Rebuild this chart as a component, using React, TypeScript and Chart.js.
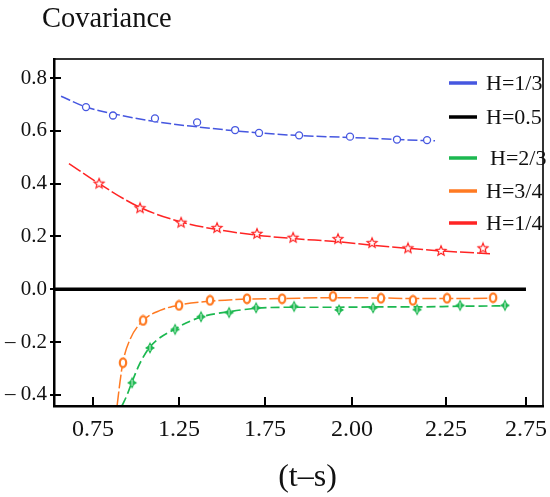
import { useEffect, useRef } from 'react';
import { Chart, registerables } from 'chart.js';

Chart.register(...registerables);

// x positions follow the printed axis, which is not evenly labelled
const xTickValues = [0.75, 1.25, 1.75, 2.256, 2.802, 3.267];
const xTickLabels = ['0.75', '1.25', '1.75', '2.00', '2.25', '2.75'];
const yTickValues = [-0.4, -0.2, 0, 0.2, 0.4, 0.6, 0.8];
const yTickLabels = ['\u2013 0.4', '\u2013 0.2', '0.0', '0.2', '0.4', '0.6', '0.8'];

const blueLineX = [0.564, 0.709, 0.866, 1.11, 1.355, 1.576, 1.715, 1.948, 2.244, 2.517, 2.738];
const blueLineY = [0.731, 0.69, 0.665, 0.635, 0.615, 0.6, 0.592, 0.582, 0.575, 0.567, 0.562];
const blueMarkX = [0.709, 0.866, 1.11, 1.355, 1.576, 1.715, 1.948, 2.244, 2.517, 2.692];
const blueMarkY = [0.69, 0.658, 0.647, 0.632, 0.603, 0.592, 0.583, 0.578, 0.567, 0.565];

const blackLineX = [0.523, 3.267];
const blackLineY = [0, 0];

const greenLineX = [0.919, 0.948, 0.977, 1.023, 1.081, 1.227, 1.378, 1.541, 1.698, 1.919, 2.18, 2.378, 2.634, 2.884, 3.145];
const greenLineY = [-0.44, -0.4, -0.35, -0.28, -0.218, -0.15, -0.105, -0.085, -0.072, -0.068, -0.068, -0.067, -0.067, -0.064, -0.063];
const greenMarkX = [0.977, 1.081, 1.227, 1.378, 1.541, 1.698, 1.919, 2.18, 2.378, 2.634, 2.884, 3.145];
const greenMarkY = [-0.354, -0.222, -0.152, -0.104, -0.088, -0.07, -0.065, -0.078, -0.07, -0.077, -0.061, -0.061];

const orangeLineX = [0.89, 0.907, 0.924, 0.965, 1.041, 1.14, 1.25, 1.43, 1.645, 1.849, 2.145, 2.424, 2.61, 2.808, 3.076];
const orangeLineY = [-0.44, -0.35, -0.275, -0.19, -0.118, -0.08, -0.06, -0.045, -0.037, -0.035, -0.032, -0.033, -0.035, -0.035, -0.034];
const orangeMarkX = [0.924, 1.041, 1.25, 1.43, 1.645, 1.849, 2.145, 2.424, 2.61, 2.808, 3.076];
const orangeMarkY = [-0.278, -0.118, -0.061, -0.042, -0.036, -0.036, -0.027, -0.034, -0.042, -0.034, -0.032];

const redLineX = [0.61, 0.785, 1.023, 1.262, 1.471, 1.703, 1.913, 2.174, 2.372, 2.581, 2.773, 3.058];
const redLineY = [0.476, 0.4, 0.31, 0.255, 0.226, 0.205, 0.192, 0.18, 0.167, 0.155, 0.145, 0.135];
const redMarkX = [0.785, 1.023, 1.262, 1.471, 1.703, 1.913, 2.174, 2.372, 2.581, 2.773, 3.017];
const redMarkY = [0.4, 0.307, 0.252, 0.232, 0.21, 0.195, 0.19, 0.175, 0.155, 0.145, 0.155];

const legendLabels = ['H=1/3', 'H=0.5', 'H=2/3', 'H=3/4', 'H=1/4'];

const BLUE = '#4657e0';
const BLACK = '#000000';
const GREEN = '#1cb850';
const ORANGE = '#ff7a22';
const RED = '#ff2424';
const legendColors = [BLUE, BLACK, GREEN, ORANGE, RED];

const SERIF = "'Liberation Serif', 'Times New Roman', serif";

const pts = (xs: number[], ys: number[]) => xs.map((x, i) => ({ x, y: ys[i] }));

function makeMarker(size: number, draw: (c: CanvasRenderingContext2D) => void) {
  const cv = document.createElement('canvas');
  cv.width = size;
  cv.height = size;
  const c = cv.getContext('2d')!;
  c.translate(size / 2, size / 2);
  draw(c);
  return cv;
}

const starMarker = () =>
  makeMarker(14, (c) => {
    c.beginPath();
    for (let i = 0; i < 10; i++) {
      const r = i % 2 === 0 ? 5.2 : 2.3;
      const a = -Math.PI / 2 + (i * Math.PI) / 5;
      const px = r * Math.cos(a);
      const py = r * Math.sin(a);
      if (i === 0) c.moveTo(px, py);
      else c.lineTo(px, py);
    }
    c.closePath();
    c.fillStyle = '#fff';
    c.fill();
    c.strokeStyle = RED;
    c.lineWidth = 1.2;
    c.stroke();
  });

const ovalMarker = () =>
  makeMarker(12, (c) => {
    c.beginPath();
    c.ellipse(0, 0, 3.2, 4.3, 0, 0, Math.PI * 2);
    c.fillStyle = '#fff';
    c.fill();
    c.strokeStyle = ORANGE;
    c.lineWidth = 2.2;
    c.stroke();
  });

const diamondMarker = () =>
  makeMarker(14, (c) => {
    c.beginPath();
    c.moveTo(0, -6);
    c.lineTo(2, -2);
    c.lineTo(5, 0);
    c.lineTo(2, 2);
    c.lineTo(0, 6);
    c.lineTo(-2, 2);
    c.lineTo(-5, 0);
    c.lineTo(-2, -2);
    c.closePath();
    c.fillStyle = GREEN;
    c.fill();
    c.strokeStyle = '#d8f5e0';
    c.lineWidth = 1;
    c.beginPath();
    c.moveTo(0, -3);
    c.lineTo(0, 3);
    c.stroke();
  });

const frame = {
  id: 'frame',
  afterDraw(chart: Chart) {
    const ctx = chart.ctx;
    const a = chart.chartArea;
    const xs = chart.scales.x;
    const ys = chart.scales.y;
    const L = Math.round(a.left);
    const R = Math.round(a.right);
    const T = Math.round(a.top);
    const B = Math.round(a.bottom);
    ctx.save();
    // top & right border
    ctx.fillStyle = '#333333';
    ctx.fillRect(L, T - 1, R - L + 1, 2);
    ctx.fillRect(R - 1, T - 1, 2, B - T + 2);
    // axes
    ctx.fillStyle = BLACK;
    ctx.fillRect(L - 1, T - 1, 2.5, B - T + 2);
    ctx.fillRect(L - 1, B - 1, R - L + 2, 2.5);
    // ticks: y ticks cross the axis, x ticks point inward
    yTickValues.forEach((v) => {
      const py = Math.round(ys.getPixelForValue(v));
      ctx.fillRect(L - 4, py - 1, 11, 2);
    });
    xTickValues.forEach((v) => {
      const px = Math.round(xs.getPixelForValue(v));
      ctx.fillRect(px - 1, B - 9, 2, 9);
    });

    // legend
    const rowY = [24, 58, 99, 132, 164];
    ctx.textBaseline = 'middle';
    ctx.textAlign = 'left';
    ctx.font = `22px ${SERIF}`;
    legendLabels.forEach((lab, i) => {
      const ly = a.top + rowY[i];
      ctx.fillStyle = legendColors[i];
      ctx.fillRect(a.right - 94, ly - 1.75, 28, 3.5);
      ctx.fillStyle = '#111';
      ctx.fillText(lab, a.right - 57 + (i === 2 ? 4 : 0), ly + 1);
    });

    // titles
    ctx.font = `28.5px ${SERIF}`;
    ctx.textBaseline = 'alphabetic';
    ctx.fillText('Covariance', 42, 27);
    ctx.font = `32px ${SERIF}`;
    ctx.textAlign = 'center';
    ctx.textBaseline = 'middle';
    ctx.fillText('(t\u2013s)', (a.left + a.right) / 2 + 9, a.bottom + 72);
    ctx.restore();
  },
};

export default function App() {
  const canvasRef = useRef<HTMLCanvasElement>(null);
  const chartRef = useRef<Chart | null>(null);

  useEffect(() => {
    if (!canvasRef.current) return;
    chartRef.current?.destroy();

    const line = (xs: number[], ys: number[], color: string, dash: number[], width = 1.5) => ({
      data: pts(xs, ys),
      borderColor: color,
      borderWidth: width,
      borderDash: dash,
      pointRadius: 0,
      showLine: true,
      tension: 0.4,
      cubicInterpolationMode: 'monotone' as const,
      order: 2,
    });
    const marks = (xs: number[], ys: number[], style: any, color: string, radius = 4) => ({
      data: pts(xs, ys),
      showLine: false,
      pointStyle: style,
      pointRadius: radius,
      pointBorderColor: color,
      pointBackgroundColor: '#fff',
      pointBorderWidth: 1.3,
      borderColor: color,
      order: 1,
    });

    chartRef.current = new Chart(canvasRef.current, {
      type: 'line',
      data: {
        datasets: [
          line(blueLineX, blueLineY, BLUE, [10, 3]),
          marks(blueMarkX, blueMarkY, 'circle', BLUE, 3.5),
          line(blackLineX, blackLineY, BLACK, [], 3.5),
          line(greenLineX, greenLineY, GREEN, [9, 4], 1.7),
          marks(greenMarkX, greenMarkY, diamondMarker(), GREEN),
          line(orangeLineX, orangeLineY, ORANGE, [14, 3]),
          marks(orangeMarkX, orangeMarkY, ovalMarker(), ORANGE),
          line(redLineX, redLineY, RED, [14, 3]),
          marks(redMarkX, redMarkY, starMarker(), RED),
        ] as any,
      },
      options: {
        animation: false,
        responsive: true,
        maintainAspectRatio: false,
        layout: { padding: { top: 59, right: 7, left: 0, bottom: 0 } },
        plugins: { legend: { display: false }, tooltip: { enabled: false } },
        scales: {
          x: {
            type: 'linear',
            min: 0.523,
            max: 3.366,
            grid: { display: false, drawTicks: false },
            border: { display: false },
            afterBuildTicks: (scale: any) => {
              scale.ticks = xTickValues.map((v) => ({ value: v }));
            },
            afterFit: (scale: any) => {
              scale.height = 91;
              scale.paddingLeft = 0;
              scale.paddingRight = 0;
            },
            ticks: {
              autoSkip: false,
              maxRotation: 0,
              padding: 9,
              color: '#111',
              font: { family: SERIF, size: 24 },
              callback: (_v: any, i: number) => xTickLabels[i],
            },
          },
          y: {
            type: 'linear',
            min: -0.442,
            max: 0.872,
            grid: { display: false, drawTicks: false },
            border: { display: false },
            afterBuildTicks: (scale: any) => {
              scale.ticks = yTickValues.map((v) => ({ value: v }));
            },
            afterFit: (scale: any) => {
              scale.width = 54;
              scale.paddingTop = 0;
              scale.paddingBottom = 0;
            },
            ticks: {
              autoSkip: false,
              padding: 7,
              color: '#111',
              font: { family: SERIF, size: 21 },
              callback: (_v: any, i: number) => yTickLabels[i],
            },
          },
        },
      },
      plugins: [frame],
    });

    return () => {
      chartRef.current?.destroy();
      chartRef.current = null;
    };
  }, []);

  return (
    <div style={{ position: 'absolute', left: 0, top: 0, width: 550, height: 497, background: '#fff' }}>
      <canvas ref={canvasRef} role="img" aria-label="Covariance" />
    </div>
  );
}
